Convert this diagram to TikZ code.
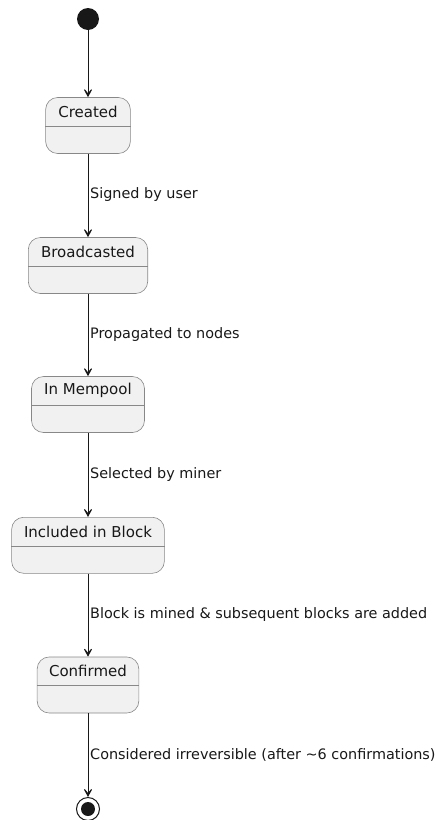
\documentclass[tikz,border=0pt]{standalone}
\usepackage{fontspec}
\setmainfont{DejaVu Sans}
\usetikzlibrary{arrows.meta}
\definecolor{statefill}{HTML}{F1F1F1}
\definecolor{stateborder}{HTML}{888888}
\definecolor{ink}{HTML}{181818}
\begin{document}
\begin{tikzpicture}[x=1pt,y=-1pt,
  statebox/.style={draw=stateborder, fill=statefill, rounded corners=12pt, line width=0.6pt, minimum height=56pt, inner sep=0pt},
  divider/.style={draw=stateborder, line width=0.6pt},
  stname/.style={font=\fontsize{15}{17}\selectfont, text=ink, inner sep=0pt},
  tlabel/.style={font=\fontsize{14.4}{16}\selectfont, text=ink, anchor=west, inner sep=0pt},
  trans/.style={draw=ink, line width=1pt, -{Stealth[length=12pt, width=13pt, inset=8pt]}}]
\useasboundingbox (0,0) rectangle (436,820);
% start
\node[circle, fill=ink, minimum size=22pt, inner sep=0pt] (start) at (88,19) {};
% states
\node[statebox, minimum width=84.7pt] (created) at (88,125.5) {};
\node[statebox, minimum width=119.4pt] (broad) at (88,265.5) {};
\node[statebox, minimum width=113pt] (mempool) at (88,404.5) {};
\node[statebox, minimum width=152.7pt] (block) at (88,545.3) {};
\node[statebox, minimum width=101.7pt] (confirmed) at (88,685) {};
\foreach \s/\t in {created/Created, broad/Broadcasted, mempool/In Mempool, block/Included in Block, confirmed/Confirmed}{
  \draw[divider] ([yshift=-29pt]\s.north west) -- ([yshift=-29pt]\s.north east);
  \node[stname] (\s-name) at ([yshift=-14.5pt]\s.north) {\t};
}
% end
\node[circle, draw=ink, line width=1pt, fill=white, minimum size=23pt, inner sep=0pt] (end) at (88,809) {};
\node[circle, fill=ink, minimum size=14pt, inner sep=0pt] (endin) at (end.center) {};
% transitions
\draw[trans] (start) -- (created);
\draw[trans] (created) -- (broad);
\draw[trans] (broad) -- (mempool);
\draw[trans] (mempool) -- (block);
\draw[trans] (block) -- (confirmed);
\draw[trans] (confirmed) -- (end);
% labels
\node[tlabel] (l1) at (90,195) {Signed by user};
\node[tlabel] (l2) at (90,335) {Propagated to nodes};
\node[tlabel] (l3) at (90,475) {Selected by miner};
\node[tlabel] (l4) at (90,615) {Block is mined \& subsequent blocks are added};
\node[tlabel] (l5) at (90,755) {Considered irreversible (after \textasciitilde 6 confirmations)};
\end{tikzpicture}
\end{document}
